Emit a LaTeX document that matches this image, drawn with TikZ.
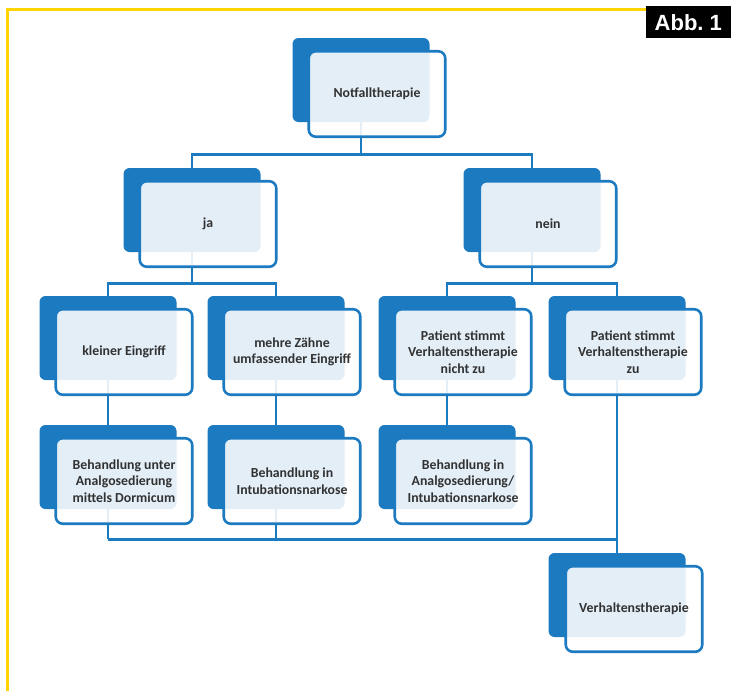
\documentclass[tikz,border=0pt]{standalone}
\usepackage{fontspec}
\setmainfont{Carlito}
\newfontfamily\abbfont{Liberation Sans}
\definecolor{boxblue}{RGB}{28,122,192}
\definecolor{abbyellow}{RGB}{255,212,0}
\definecolor{txtgray}{RGB}{50,50,50}
\begin{document}
\begin{tikzpicture}[x=1pt,y=-1pt]
\tikzset{back/.style = {rectangle,rounded corners=6pt,fill=boxblue,minimum width=137pt,minimum height=84pt,inner sep=0pt}}
\tikzset{front/.style = {rectangle,rounded corners=7pt,draw=boxblue,line width=2.6pt,fill=white,fill opacity=0.88,text opacity=1,minimum width=136.5pt,minimum height=85.5pt,inner sep=2pt,align=center,text=txtgray,font=\fontsize{13.8}{16.5}\selectfont\bfseries}}
\tikzset{link/.style = {draw=boxblue,line width=2.6pt}}
\useasboundingbox (0,0) rectangle (731,691);
% frame
\draw[abbyellow,line width=3pt] (7,691) -- (7,9) -- (647,9);
\node[fill=black,text=white,anchor=north east,minimum width=85pt,minimum height=32pt,inner sep=0pt,font=\abbfont\bfseries\fontsize{22}{22}\selectfont] (abb) at (731,6) {Abb.\ 1};
% back boxes
\node[back] (b0) at (361,80) {};
\node[back] (b1) at (192,210) {};
\node[back] (b2) at (532,210) {};
\node[back] (b3) at (108,338) {};
\node[back] (b4) at (276,338) {};
\node[back] (b5) at (447,338) {};
\node[back] (b6) at (617,338) {};
\node[back] (b7) at (108,467) {};
\node[back] (b8) at (276,467) {};
\node[back] (b9) at (447,467) {};
\node[back] (b10) at (617,595) {};
%edges
\draw[link] (b0.south) -- ++(0,32) coordinate (j0);
\draw[link] (j0) -| (b1.north);
\draw[link] (j0) -| (b2.north);
\draw[link] (b1.south) -- ++(0,31) coordinate (j1);
\draw[link] (j1) -| (b3.north);
\draw[link] (j1) -| (b4.north);
\draw[link] (b2.south) -- ++(0,31) coordinate (j2);
\draw[link] (j2) -| (b5.north);
\draw[link] (j2) -| (b6.north);
\draw[link] (b3.south) -- (b7.north);
\draw[link] (b4.south) -- (b8.north);
\draw[link] (b5.south) -- (b9.north);
\draw[link] (b7.south) -- ++(0,30) coordinate (j3);
\draw[link] (j3) -| (b10.north);
\draw[link] (b8.south) -- (b8.south |- j3);
\draw[link] (b6.south) -- (b10.north);
% front boxes
\node[front] (n0) at (377,94) {Notfalltherapie};
\node[front] (n1) at (208,224) {ja};
\node[front] (n2) at (548,224) {nein};
\node[front] (n3) at (124,352) {kleiner Eingriff};
\node[front] (n4) at (292,352) {mehre Zähne\\umfassender Eingriff};
\node[front] (n5) at (463,352) {Patient stimmt\\Verhaltenstherapie\\nicht zu};
\node[front] (n6) at (633,352) {Patient stimmt\\Verhaltenstherapie\\zu};
\node[front] (n7) at (124,481) {Behandlung unter\\Analgosedierung\\mittels Dormicum};
\node[front] (n8) at (292,481) {Behandlung in\\Intubationsnarkose};
\node[front] (n9) at (463,481) {Behandlung in\\Analgosedierung/\\Intubationsnarkose};
\node[front] (n10) at (634,609) {Verhaltenstherapie};
\end{tikzpicture}
\end{document}
